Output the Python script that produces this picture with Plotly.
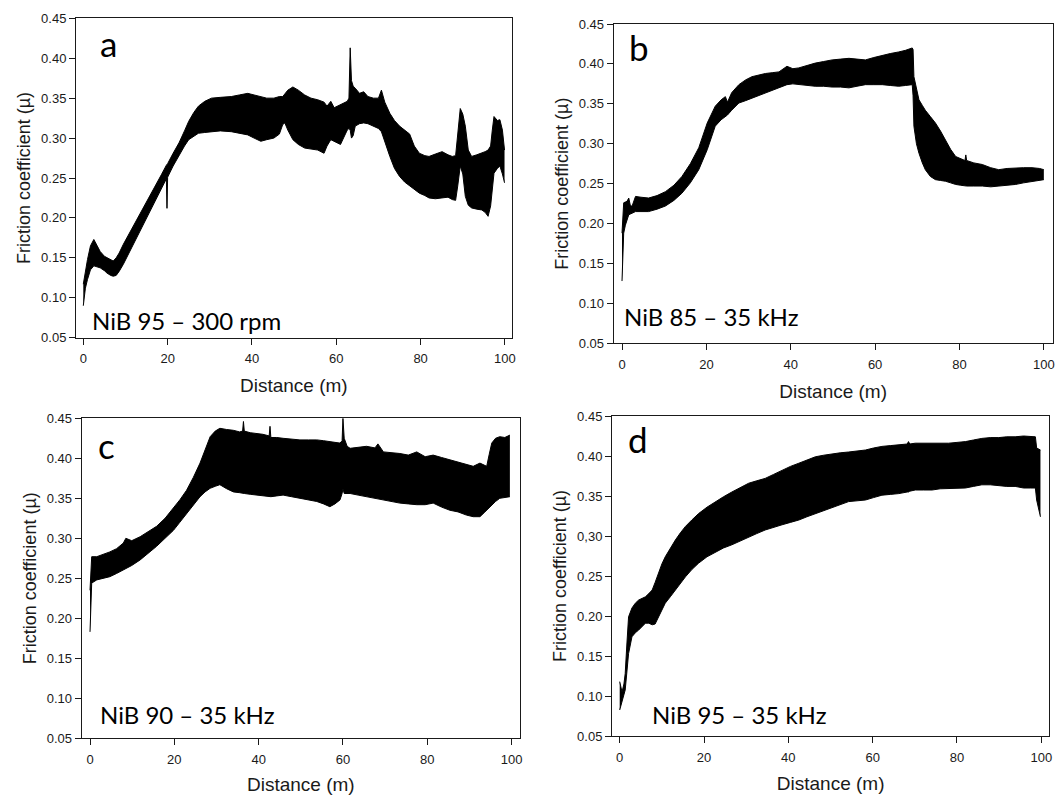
import plotly.graph_objects as go

# ---------------- data ----------------
panel_letters = ["a", "b", "c", "d"]
panel_labels = ["NiB 95 \u2013 300 rpm", "NiB 85 \u2013 35 kHz", "NiB 90 \u2013 35 kHz", "NiB 95 \u2013 35 kHz"]
x_title = "Distance (m)"
y_title = "Friction coefficient (\u00b5)"
x_ticks = [0, 20, 40, 60, 80, 100]
y_ticks = [0.05, 0.10, 0.15, 0.20, 0.25, 0.30, 0.35, 0.40, 0.45]
y_tick_text = ["0.05", "0.10", "0.15", "0.20", "0.25", "0.30", "0.35", "0.40", "0.45"]
y_tick_text_d = ["0.05", "0.10", "0.15", "0.20", "0.25", "0,30", "0.35", "0.40", "0.45"]

# Panel a: NiB 95 - 300 rpm (upper / lower envelope of the friction signal)
dist_a = [0.0, 0.5, 1.0, 1.7, 2.5, 3.3, 4.0, 5.0, 5.6, 6.5, 7.1, 7.8, 8.5, 9.5, 11.5, 13.4, 15.3, 17.2,
          18.5, 19.7, 19.85, 20.0, 21.3, 22.7, 24.0, 25.0, 26.2, 27.3, 28.8, 30.4, 32.5, 35.1, 37.0,
          39.0, 40.5, 42.1, 43.5, 45.2, 46.5, 47.3, 47.8, 48.5, 49.7, 51.0, 52.5, 54.0, 55.6, 57.1,
          57.8, 58.7, 59.5, 61.0, 62.6, 63.0, 63.3, 63.6, 64.0, 64.5, 65.5, 66.5, 67.5, 68.8, 70.0,
          70.7, 71.5, 72.7, 73.8, 75.0, 76.2, 77.4, 78.5, 79.7, 81.0, 82.0, 83.5, 85.1, 86.5, 87.5,
          88.3, 88.8, 89.4, 90.0, 90.6, 91.3, 92.1, 93.3, 94.5, 95.3, 96.0, 96.6, 97.0, 97.4, 98.2,
          98.8, 99.4, 99.9]
upper_a = [0.117, 0.135, 0.148, 0.165, 0.173, 0.165, 0.158, 0.152, 0.150, 0.147, 0.146, 0.150, 0.156,
           0.167, 0.186, 0.204, 0.223, 0.242, 0.254, 0.266, 0.267, 0.268, 0.281, 0.294, 0.309, 0.321,
           0.332, 0.340, 0.346, 0.350, 0.351, 0.352, 0.354, 0.356, 0.354, 0.352, 0.350, 0.350, 0.352,
           0.352, 0.356, 0.360, 0.364, 0.360, 0.354, 0.350, 0.348, 0.345, 0.340, 0.346, 0.338, 0.342,
           0.346, 0.350, 0.413, 0.372, 0.365, 0.3625, 0.356, 0.358, 0.352, 0.350, 0.350, 0.360, 0.345,
           0.331, 0.322, 0.315, 0.310, 0.305, 0.290, 0.281, 0.278, 0.277, 0.280, 0.283, 0.279, 0.277,
           0.278, 0.310, 0.337, 0.330, 0.315, 0.285, 0.277, 0.279, 0.281, 0.283, 0.285, 0.290, 0.310,
           0.327, 0.322, 0.323, 0.310, 0.285]
lower_a = [0.090, 0.112, 0.123, 0.135, 0.140, 0.139, 0.1375, 0.134, 0.131, 0.128, 0.127, 0.128, 0.133,
           0.142, 0.163, 0.183, 0.203, 0.223, 0.236, 0.249, 0.212, 0.251, 0.265, 0.279, 0.290, 0.298,
           0.302, 0.306, 0.307, 0.308, 0.309, 0.308, 0.306, 0.304, 0.300, 0.296, 0.298, 0.300, 0.305,
           0.317, 0.319, 0.310, 0.298, 0.292, 0.2875, 0.286, 0.285, 0.281, 0.290, 0.298, 0.296, 0.292,
           0.310, 0.312, 0.310, 0.300, 0.303, 0.315, 0.318, 0.319, 0.318, 0.315, 0.312, 0.308, 0.295,
           0.277, 0.262, 0.252, 0.245, 0.240, 0.235, 0.231, 0.228, 0.225, 0.224, 0.225, 0.226, 0.223,
           0.222, 0.240, 0.265, 0.255, 0.227, 0.216, 0.2125, 0.211, 0.210, 0.207, 0.202, 0.215, 0.240,
           0.256, 0.262, 0.265, 0.255, 0.244]

# Panel b: NiB 85 - 35 kHz
dist_b = [0.0, 0.2, 0.4, 0.8, 1.2, 1.6, 2.0, 2.4, 3.2, 4.5, 6.3, 8.3, 10.3, 12.3, 14.2, 16.2, 18.2, 20.2,
          22.1, 23.5, 24.5, 25.0, 26.0, 27.7, 29.3, 30.8, 32.4, 34.0, 35.6, 37.2, 39.1, 40.5, 41.9, 43.9,
          45.8, 47.8, 49.8, 51.8, 53.8, 55.7, 57.7, 59.7, 61.7, 63.6, 65.6, 67.2, 68.8, 69.0, 69.2, 69.8,
          70.4, 71.2, 71.9, 73.1, 74.3, 75.5, 76.7, 77.9, 79.1, 80.3, 81.3, 81.5, 81.7, 83.4, 85.4, 87.4,
          89.3, 91.3, 93.3, 95.2, 97.2, 99.0, 100.0]
upper_b = [0.188, 0.215, 0.226, 0.227, 0.228, 0.232, 0.222, 0.222, 0.234, 0.233, 0.232, 0.235, 0.240,
           0.248, 0.259, 0.275, 0.295, 0.326, 0.347, 0.355, 0.359, 0.352, 0.364, 0.374, 0.380, 0.384,
           0.386, 0.388, 0.389, 0.390, 0.397, 0.394, 0.395, 0.398, 0.401, 0.403, 0.405, 0.406, 0.407,
           0.406, 0.405, 0.408, 0.411, 0.413, 0.415, 0.417, 0.420, 0.418, 0.384, 0.368, 0.355, 0.348,
           0.342, 0.334, 0.326, 0.316, 0.305, 0.293, 0.284, 0.281, 0.279, 0.286, 0.279, 0.276, 0.274,
           0.270, 0.2675, 0.269, 0.270, 0.270, 0.270, 0.269, 0.2675]
lower_b = [0.128, 0.170, 0.188, 0.198, 0.205, 0.211, 0.212, 0.213, 0.215, 0.215, 0.215, 0.218, 0.222,
           0.229, 0.238, 0.251, 0.2675, 0.2925, 0.322, 0.330, 0.334, 0.336, 0.342, 0.351, 0.354, 0.357,
           0.360, 0.363, 0.366, 0.370, 0.374, 0.375, 0.374, 0.373, 0.372, 0.372, 0.371, 0.371, 0.370,
           0.372, 0.374, 0.374, 0.374, 0.373, 0.372, 0.373, 0.374, 0.360, 0.322, 0.300, 0.288, 0.276,
           0.2675, 0.259, 0.255, 0.254, 0.253, 0.251, 0.249, 0.248, 0.247, 0.247, 0.247, 0.247, 0.247,
           0.246, 0.247, 0.248, 0.249, 0.251, 0.253, 0.254, 0.255]

# Panel c: NiB 90 - 35 kHz
dist_c = [0.0, 0.2, 0.4, 1.6, 3.2, 4.7, 6.3, 7.9, 8.5, 9.9, 11.9, 13.8, 15.8, 17.8, 19.8, 21.3, 22.9, 24.5,
          26.1, 27.3, 28.5, 29.7, 30.8, 32.4, 34.0, 35.5, 36.2, 36.4, 36.6, 38.0, 39.5, 41.0, 42.5, 42.7,
          42.9, 44.3, 45.8, 47.8, 49.8, 51.8, 53.8, 55.4, 56.9, 58.1, 59.3, 59.8, 60.0, 60.3, 61.0, 61.7,
          63.6, 65.6, 67.6, 68.3, 69.6, 71.5, 73.5, 75.5, 77.5, 79.5, 81.4, 83.4, 85.4, 87.3, 89.3, 90.9,
          92.5, 93.5, 94.1, 94.7, 95.3, 96.2, 97.2, 98.4, 99.6]
upper_c = [0.235, 0.262, 0.277, 0.277, 0.280, 0.283, 0.287, 0.294, 0.300, 0.297, 0.302, 0.308, 0.315,
           0.325, 0.3375, 0.348, 0.360, 0.376, 0.394, 0.410, 0.427, 0.434, 0.4375, 0.436, 0.435, 0.433,
           0.434, 0.446, 0.434, 0.432, 0.431, 0.430, 0.428, 0.440, 0.426, 0.426, 0.425, 0.424, 0.423,
           0.423, 0.423, 0.422, 0.421, 0.420, 0.419, 0.422, 0.450, 0.425, 0.415, 0.4125, 0.414, 0.415,
           0.413, 0.418, 0.408, 0.407, 0.406, 0.404, 0.408, 0.402, 0.404, 0.401, 0.398, 0.395, 0.392,
           0.390, 0.394, 0.392, 0.390, 0.405, 0.419, 0.425, 0.427, 0.426, 0.429]
lower_c = [0.183, 0.220, 0.244, 0.248, 0.250, 0.252, 0.256, 0.260, 0.262, 0.266, 0.273, 0.281, 0.290,
           0.300, 0.310, 0.320, 0.331, 0.342, 0.352, 0.358, 0.3625, 0.365, 0.367, 0.362, 0.358, 0.357,
           0.356, 0.356, 0.356, 0.355, 0.354, 0.353, 0.352, 0.352, 0.352, 0.353, 0.354, 0.352, 0.350,
           0.348, 0.346, 0.343, 0.3395, 0.343, 0.348, 0.356, 0.362, 0.356, 0.356, 0.356, 0.354, 0.352,
           0.350, 0.349, 0.348, 0.346, 0.344, 0.343, 0.342, 0.342, 0.344, 0.339, 0.335, 0.333, 0.329,
           0.327, 0.327, 0.332, 0.335, 0.339, 0.342, 0.346, 0.350, 0.351, 0.352]

# Panel d: NiB 95 - 35 kHz
dist_d = [0.0, 0.3, 0.55, 1.0, 1.3, 1.7, 2.1, 2.9, 3.7, 4.5, 5.3, 6.1, 6.9, 7.7, 8.4, 9.2, 10.0, 10.8,
          12.0, 13.2, 14.4, 15.6, 17.1, 18.7, 20.7, 22.7, 24.6, 26.6, 28.6, 30.6, 32.5, 34.5, 36.5, 38.5,
          40.5, 42.5, 44.4, 46.4, 48.4, 50.4, 52.3, 54.3, 56.3, 58.3, 60.2, 62.2, 64.2, 66.2, 68.2, 68.5,
          68.8, 70.1, 72.1, 74.1, 76.0, 78.0, 80.0, 82.0, 83.9, 85.9, 87.9, 89.9, 91.8, 93.8, 95.8, 97.5,
          98.6, 98.9, 99.3, 99.8]
upper_d = [0.118, 0.110, 0.105, 0.115, 0.128, 0.165, 0.199, 0.210, 0.216, 0.220, 0.222, 0.224, 0.228,
           0.2325, 0.242, 0.255, 0.265, 0.274, 0.285, 0.295, 0.304, 0.312, 0.320, 0.328, 0.336, 0.343,
           0.349, 0.355, 0.361, 0.366, 0.369, 0.372, 0.377, 0.3825, 0.387, 0.391, 0.395, 0.399, 0.401,
           0.403, 0.404, 0.405, 0.406, 0.4075, 0.410, 0.412, 0.413, 0.414, 0.415, 0.418, 0.415, 0.416,
           0.416, 0.416, 0.416, 0.416, 0.417, 0.418, 0.420, 0.422, 0.423, 0.423, 0.424, 0.424, 0.425,
           0.424, 0.424, 0.410, 0.409, 0.4075]
lower_d = [0.0825, 0.088, 0.093, 0.100, 0.1075, 0.130, 0.153, 0.174, 0.179, 0.1825, 0.187, 0.191, 0.191,
           0.189, 0.190, 0.199, 0.207, 0.216, 0.224, 0.2325, 0.241, 0.249, 0.258, 0.266, 0.274, 0.280,
           0.285, 0.289, 0.294, 0.299, 0.303, 0.3075, 0.311, 0.314, 0.317, 0.320, 0.324, 0.328, 0.331,
           0.335, 0.339, 0.343, 0.344, 0.345, 0.348, 0.351, 0.352, 0.353, 0.355, 0.355, 0.356, 0.3575,
           0.3575, 0.3575, 0.359, 0.3596, 0.360, 0.360, 0.362, 0.364, 0.364, 0.363, 0.362, 0.362, 0.360,
           0.360, 0.360, 0.345, 0.335, 0.324]

# ---------------- layout geometry ----------------
W, H = 1064, 795
# plot boxes in pixels: (left, right, top, bottom)
boxes = [(76, 511.7, 18.3, 337.7), (613.7, 1052.7, 24.0, 343.3),
         (81.7, 520.0, 418.3, 738.3), (612.0, 1049.3, 416.0, 736.0)]
x_ranges = [[-1.73, 101.6], [-1.97, 102.1], [-1.97, 102.0], [-1.83, 101.9]]
y_range = [0.05, 0.45]

series = [(dist_a, upper_a, lower_a), (dist_b, upper_b, lower_b),
          (dist_c, upper_c, lower_c), (dist_d, upper_d, lower_d)]
tick_texts = [y_tick_text, y_tick_text, y_tick_text, y_tick_text_d]
# annotation positions in data coords: (letter x, letter y, label x, label y)
ann_pos = [(3.4, 0.419, 1.7, 0.071), (1.1, 0.421, 0.1, 0.083),
           (1.5, 0.417, 2.0, 0.080), (1.6, 0.421, 7.2, 0.077)]

AX_FONT = "Arial, 'Liberation Sans', sans-serif"
LBL_FONT = "Lato, 'Open Sans', sans-serif"
INK = "#1a1a1a"

fig = go.Figure()
layout = dict(width=W, height=H, margin=dict(l=0, r=0, t=0, b=0),
              paper_bgcolor="white", plot_bgcolor="white", showlegend=False,
              template="none", annotations=[])

for i, (dist, up, lo) in enumerate(series):
    n = "" if i == 0 else str(i + 1)
    xa, ya = "x" + n, "y" + n
    fig.add_trace(go.Scatter(x=dist, y=lo, mode="lines", line=dict(color="black", width=1),
                             xaxis=xa, yaxis=ya, hoverinfo="skip"))
    fig.add_trace(go.Scatter(x=dist, y=up, mode="lines", line=dict(color="black", width=1),
                             fill="tonexty", fillcolor="black", xaxis=xa, yaxis=ya, hoverinfo="skip"))
    l, r, t, b = boxes[i]
    common = dict(showgrid=False, zeroline=False, showline=True, linecolor=INK, linewidth=1,
                  mirror=True, ticks="outside", ticklen=6, tickwidth=1, tickcolor=INK,
                  tickfont=dict(family=AX_FONT, size=13, color=INK), automargin=False)
    layout["xaxis" + n] = dict(common, domain=[l / W, r / W], range=x_ranges[i], anchor=ya,
                               tickmode="array", tickvals=x_ticks,
                               ticktext=[str(v) for v in x_ticks], ticklabelstandoff=3,
                               title=dict(text=x_title, font=dict(family=AX_FONT, size=19, color=INK),
                                          standoff=13))
    layout["yaxis" + n] = dict(common, domain=[1 - b / H, 1 - t / H], range=y_range, anchor=xa,
                               tickmode="array", tickvals=y_ticks, ticktext=tick_texts[i],
                               title=dict(text=y_title, font=dict(family=AX_FONT, size=18, color=INK),
                                          standoff=5))
    lx, ly, tx, ty = ann_pos[i]
    layout["annotations"].append(dict(text=panel_letters[i], x=lx, y=ly, xref=xa, yref=ya,
                                      xanchor="left", yanchor="middle", showarrow=False,
                                      font=dict(family=LBL_FONT, size=35, color="black")))
    layout["annotations"].append(dict(text=panel_labels[i], x=tx, y=ty, xref=xa, yref=ya,
                                      xanchor="left", yanchor="middle", showarrow=False,
                                      font=dict(family=LBL_FONT, size=24, color="black")))

fig.update_layout(**layout)
fig.write_html("out.html", config={"displayModeBar": False},
               post_script="document.body.style.margin='0';document.body.style.overflow='hidden';")
